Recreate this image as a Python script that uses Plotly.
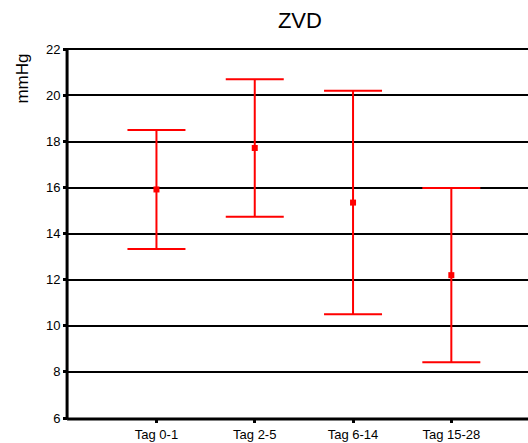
import plotly.graph_objects as go

categories = ["Tag 0-1", "Tag 2-5", "Tag 6-14", "Tag 15-28"]
means = [15.92, 17.72, 15.35, 12.2]
sds = [2.58, 2.98, 4.85, 3.78]
y_ticks = [6, 8, 10, 12, 14, 16, 18, 20, 22]

fig = go.Figure()
fig.add_trace(go.Scatter(
    x=list(range(len(categories))), y=means, mode="markers",
    marker=dict(symbol="square", size=6, color="#ff0000"),
    error_y=dict(type="data", array=sds, visible=True, color="#ff0000",
                 thickness=2, width=29),
    showlegend=False, cliponaxis=False,
))

fig.update_layout(
    width=528, height=443,
    margin=dict(l=68, r=0, t=48, b=25),
    paper_bgcolor="white", plot_bgcolor="white",
    font=dict(family="Liberation Sans, Arial, sans-serif", color="black", size=13),
    title=dict(text="ZVD", x=0.568, xanchor="center", y=0.955, yanchor="middle",
               font=dict(size=22, color="black")),
    xaxis=dict(range=[-0.9, 3.78], tickmode="array", tickvals=list(range(len(categories))),
               ticktext=categories, showgrid=False, zeroline=False,
               showline=False,
               ticks="outside", ticklen=4, tickwidth=3, tickcolor="black",
               tickfont=dict(size=13)),
    yaxis=dict(range=[6, 22.06], tickvals=y_ticks, showgrid=True, gridcolor="black",
               gridwidth=2, zeroline=False, showline=False,
               ticks="outside", ticklen=4, tickwidth=3, tickcolor="black",
               tickfont=dict(size=13)),
    shapes=[
        dict(type="line", xref="paper", yref="paper", x0=-0.002, x1=-0.002, y0=-0.003, y1=1.0,
             line=dict(color="black", width=3), layer="above"),
        dict(type="line", xref="paper", yref="paper", x0=-0.002, x1=1.0, y0=-0.003, y1=-0.003,
             line=dict(color="black", width=3), layer="above"),
    ],
    annotations=[dict(text="mmHg", textangle=-90, xref="paper", yref="paper",
                      x=-0.098, y=0.99, xanchor="center", yanchor="top",
                      showarrow=False, font=dict(size=17, color="black"))],
)

fig.write_html("out.html")
